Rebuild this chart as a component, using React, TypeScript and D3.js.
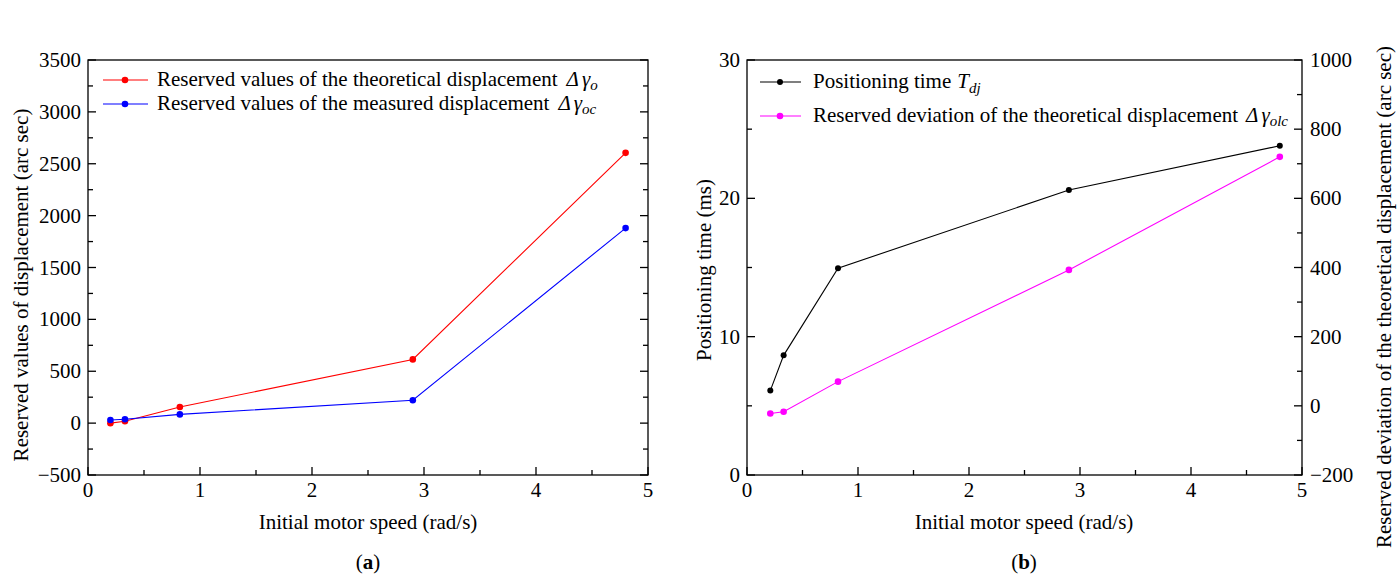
import React from "react";
import * as d3 from "d3";

const speedsA = [0.2, 0.33, 0.82, 2.9, 4.8];
const theoreticalA = [0, 18, 155, 614, 2605];
const measuredA = [30, 38, 84, 220, 1880];

const speedsB = [0.21, 0.33, 0.82, 2.9, 4.8];
const positioningTime = [6.1, 8.65, 14.95, 20.6, 23.8];
const reservedDeviation = [-22, -17, 70, 393, 720];

const xTicks = [0, 1, 2, 3, 4, 5];
const yTicksA = [-500, 0, 500, 1000, 1500, 2000, 2500, 3000, 3500];
const yTicksBLeft = [0, 10, 20, 30];
const yTicksBRight = [-200, 0, 200, 400, 600, 800, 1000];

const FONT = "Liberation Serif, Tinos, Times New Roman, DejaVu Serif, serif";
const FS = 21;
const SUB = 15;

const top = 60;
const bottom = 475;

function Ticks({ scale, values, minor, orient, pos, len = 8, mlen = 5 }: any) {
  const out: any[] = [];
  const dir = orient === "left" ? 1 : -1;
  values.forEach((v: number, i: number) => {
    const p = scale(v);
    if (orient === "bottom") out.push(<line key={"M" + i} x1={p} x2={p} y1={pos} y2={pos - len} stroke="#000" strokeWidth={1.3} />);
    else out.push(<line key={"M" + i} y1={p} y2={p} x1={pos} x2={pos + dir * len} stroke="#000" strokeWidth={1.3} />);
  });
  minor.forEach((v: number, i: number) => {
    const p = scale(v);
    if (orient === "bottom") out.push(<line key={"m" + i} x1={p} x2={p} y1={pos} y2={pos - mlen} stroke="#000" strokeWidth={1.3} />);
    else out.push(<line key={"m" + i} y1={p} y2={p} x1={pos} x2={pos + dir * mlen} stroke="#000" strokeWidth={1.3} />);
  });
  return <g>{out}</g>;
}

function mids(arr: number[]) {
  const r: number[] = [];
  for (let i = 0; i < arr.length - 1; i++) r.push((arr[i] + arr[i + 1]) / 2);
  return r;
}

const ts = { fontFamily: FONT };
const fmt = (t: number) => (t < 0 ? "\u2212" + Math.abs(t) : String(t));

export default function App() {
  const xA = d3.scaleLinear().domain([0, 5]).range([88, 648]);
  const yA = d3.scaleLinear().domain([-500, 3500]).range([bottom, top]);
  const pathRed = d3.line<number>().x((_, i) => xA(speedsA[i])).y((d) => yA(d))(theoreticalA) as string;
  const pathBlue = d3.line<number>().x((_, i) => xA(speedsA[i])).y((d) => yA(d))(measuredA) as string;

  const xB = d3.scaleLinear().domain([0, 5]).range([747, 1302]);
  const yBL = d3.scaleLinear().domain([0, 30]).range([bottom, top]);
  const yBR = d3.scaleLinear().domain([-200, 1000]).range([bottom, top]);
  const pathBlack = d3.line<number>().x((_, i) => xB(speedsB[i])).y((d) => yBL(d))(positioningTime) as string;
  const pathMag = d3.line<number>().x((_, i) => xB(speedsB[i])).y((d) => yBR(d))(reservedDeviation) as string;

  return (
    <svg width={1397} height={581} style={{ display: "block", position: "absolute", left: 0, top: 0, fontFamily: FONT }}>
      <rect width={1397} height={581} fill="#fff" />
      {/* ---------- Panel A ---------- */}
      <rect x={88} y={top} width={560} height={bottom - top} fill="none" stroke="#000" strokeWidth={1.3} />
      <Ticks scale={xA} values={xTicks} minor={mids(xTicks)} orient="bottom" pos={bottom} />
      <Ticks scale={yA} values={yTicksA} minor={mids(yTicksA)} orient="left" pos={88} />
      <Ticks scale={yA} values={yTicksA} minor={mids(yTicksA)} orient="right" pos={648} />
      {xTicks.map((t) => (
        <text key={t} style={ts} x={xA(t)} y={bottom + 22} fontSize={FS} textAnchor="middle">{t}</text>
      ))}
      {yTicksA.map((t) => (
        <text key={t} style={ts} x={81} y={yA(t) + 7} fontSize={FS} textAnchor="end">{fmt(t)}</text>
      ))}
      <text style={ts} x={368} y={529} fontSize={FS} textAnchor="middle">Initial motor speed (rad/s)</text>
      <text style={ts} transform={`translate(28,${285}) rotate(-90)`} fontSize={FS} textAnchor="middle">Reserved values of displacement (arc sec)</text>
      <path d={pathRed} fill="none" stroke="#ff0000" strokeWidth={1.1} />
      <path d={pathBlue} fill="none" stroke="#0000ff" strokeWidth={1.1} />
      {theoreticalA.map((v, i) => (
        <circle key={"r" + i} cx={xA(speedsA[i])} cy={yA(v)} r={3.3} fill="#ff0000" />
      ))}
      {measuredA.map((v, i) => (
        <circle key={"b" + i} cx={xA(speedsA[i])} cy={yA(v)} r={3.3} fill="#0000ff" />
      ))}
      <line x1={103} x2={148} y1={80} y2={80} stroke="#ff0000" strokeWidth={1.1} />
      <circle cx={125} cy={80} r={3.3} fill="#ff0000" />
      <text style={ts} x={157} y={86} fontSize={FS}>Reserved values of the theoretical displacement
        <tspan dx={9} fontStyle="italic">Δ</tspan><tspan dx={3} fontStyle="italic">γ</tspan><tspan fontSize={SUB} dy={4} fontStyle="italic">o</tspan>
      </text>
      <line x1={103} x2={148} y1={104} y2={104} stroke="#0000ff" strokeWidth={1.1} />
      <circle cx={125} cy={104} r={3.3} fill="#0000ff" />
      <text style={ts} x={157} y={110} fontSize={FS}>Reserved values of the measured displacement
        <tspan dx={9} fontStyle="italic">Δ</tspan><tspan dx={3} fontStyle="italic">γ</tspan><tspan fontSize={SUB} dy={4} fontStyle="italic">oc</tspan>
      </text>
      <text style={ts} x={368} y={569} fontSize={FS} textAnchor="middle">(<tspan fontWeight="bold">a</tspan>)</text>

      {/* ---------- Panel B ---------- */}
      <rect x={747} y={top} width={555} height={bottom - top} fill="none" stroke="#000" strokeWidth={1.3} />
      <Ticks scale={xB} values={xTicks} minor={mids(xTicks)} orient="bottom" pos={bottom} />
      <Ticks scale={yBL} values={yTicksBLeft} minor={mids(yTicksBLeft)} orient="left" pos={747} />
      <Ticks scale={yBR} values={yTicksBRight} minor={mids(yTicksBRight)} orient="right" pos={1302} />
      {xTicks.map((t) => (
        <text key={t} style={ts} x={xB(t)} y={bottom + 22} fontSize={FS} textAnchor="middle">{t}</text>
      ))}
      {yTicksBLeft.map((t) => (
        <text key={t} style={ts} x={740} y={yBL(t) + 7} fontSize={FS} textAnchor="end">{t}</text>
      ))}
      {yTicksBRight.map((t) => (
        <text key={t} style={ts} x={1310} y={yBR(t) + 7} fontSize={FS} textAnchor="start">{fmt(t)}</text>
      ))}
      <text style={ts} x={1024} y={529} fontSize={FS} textAnchor="middle">Initial motor speed (rad/s)</text>
      <text style={ts} transform={`translate(711,${270}) rotate(-90)`} fontSize={FS} textAnchor="middle">Positioning time (ms)</text>
      <text style={ts} transform={`translate(1391,${297}) rotate(-90)`} fontSize={FS} textAnchor="middle">Reserved deviation of the theoretical displacement (arc sec)</text>
      <path d={pathBlack} fill="none" stroke="#000" strokeWidth={1.1} />
      <path d={pathMag} fill="none" stroke="#ff00ff" strokeWidth={1.1} />
      {positioningTime.map((v, i) => (
        <circle key={"k" + i} cx={xB(speedsB[i])} cy={yBL(v)} r={3} fill="#000" />
      ))}
      {reservedDeviation.map((v, i) => (
        <circle key={"m" + i} cx={xB(speedsB[i])} cy={yBR(v)} r={3.3} fill="#ff00ff" />
      ))}
      <line x1={760} x2={801} y1={82} y2={82} stroke="#000" strokeWidth={1.1} />
      <circle cx={780} cy={82} r={3} fill="#000" />
      <text style={ts} x={813} y={88} fontSize={FS}>Positioning time
        <tspan dx={6} fontStyle="italic">T</tspan><tspan fontSize={SUB} dy={5} fontStyle="italic">dj</tspan>
      </text>
      <line x1={760} x2={801} y1={116} y2={116} stroke="#ff00ff" strokeWidth={1.1} />
      <circle cx={780} cy={116} r={3.3} fill="#ff00ff" />
      <text style={ts} x={813} y={122} fontSize={FS}>Reserved deviation of the theoretical displacement
        <tspan dx={8} fontStyle="italic">Δ</tspan><tspan dx={3} fontStyle="italic">γ</tspan><tspan fontSize={SUB} dy={4} fontStyle="italic">olc</tspan>
      </text>
      <text style={ts} x={1024} y={569} fontSize={FS} textAnchor="middle">(<tspan fontWeight="bold">b</tspan>)</text>
    </svg>
  );
}
